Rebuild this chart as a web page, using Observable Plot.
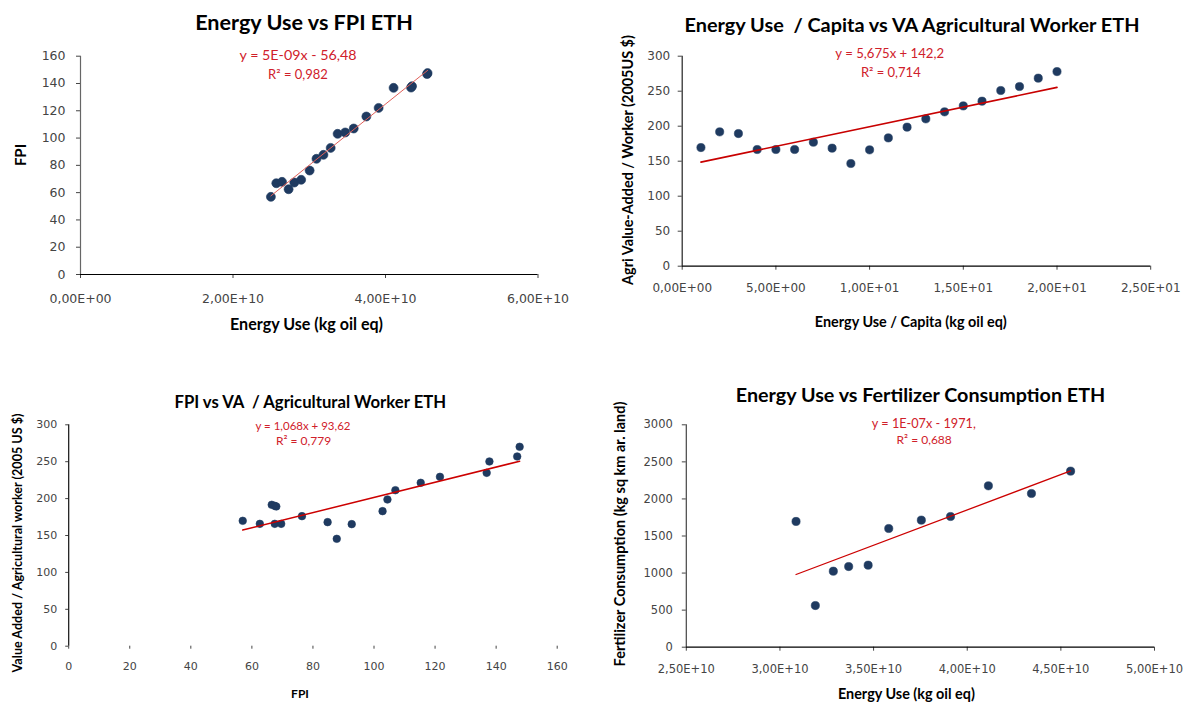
<!DOCTYPE html>
<html>
<head>
<meta charset="utf-8">
<script src="https://cdn.jsdelivr.net/npm/d3@7"></script>
<script src="https://cdn.jsdelivr.net/npm/@observablehq/plot@0.6"></script>
<style>
  html, body { margin: 0; padding: 0; background: #ffffff; }
  #root { position: relative; width: 1187px; height: 702px; overflow: hidden; background: #fff; }
  .panel { position: absolute; }
  .lbl { position: absolute; white-space: pre; line-height: 1; }
</style>
</head>
<body>
<div id="root"></div>
<script>
// ---------------- DATA ----------------
// Panel 1: Energy Use (kg oil eq) vs FPI
const p1Energy = [2.497e10, 2.568e10, 2.643e10, 2.729e10, 2.804e10, 2.894e10, 3.005e10, 3.095e10, 3.186e10, 3.281e10,
                  3.372e10, 3.472e10, 3.583e10, 3.749e10, 3.910e10, 4.106e10, 4.335e10, 4.348e10, 4.545e10, 4.552e10];
const p1FPI    = [56.9, 66.9, 67.9, 62.5, 67.4, 69.4, 76.2, 84.8, 87.7, 92.8,
                  103.1, 104.1, 107.0, 115.8, 122.1, 136.8, 137.0, 138.0, 146.9, 147.6];
const p1XTicks = [0, 2e10, 4e10, 6e10];
const p1YTicks = [0, 20, 40, 60, 80, 100, 120, 140, 160];

// Panel 2: Energy Use / Capita vs Agri Value-Added / Worker
const p2EnergyPC = [1, 2, 3, 4, 5, 6, 7, 8, 9, 10, 11, 12, 13, 14, 15, 16, 17, 18, 19, 20];
const p2VA       = [169.5, 191.9, 189.5, 166.7, 166.7, 166.7, 177.1, 168.6, 146.7, 166.2,
                    183.3, 198.6, 210.5, 220.5, 229.0, 235.7, 251.0, 256.7, 268.6, 278.0];
const p2XTicks = [0, 5, 10, 15, 20, 25];
const p2YTicks = [0, 50, 100, 150, 200, 250, 300];

// Panel 3: FPI vs VA / Agricultural Worker
const p3FPI = [57.0, 62.6, 66.5, 67.5, 68.0, 67.5, 69.6, 76.4, 84.8, 87.8,
               92.7, 102.8, 104.4, 107.0, 115.3, 121.6, 136.9, 137.8, 146.9, 147.7];
const p3VA  = [169.9, 165.8, 191.6, 190.2, 189.3, 165.8, 165.8, 176.2, 168.1, 145.5,
               165.4, 183.0, 198.8, 211.4, 221.4, 229.5, 234.9, 250.3, 257.1, 270.2];
const p3XTicks = [0, 20, 40, 60, 80, 100, 120, 140, 160];
const p3YTicks = [0, 50, 100, 150, 200, 250, 300];

// Panel 4: Energy Use vs Fertilizer Consumption
const p4Energy = [3.086e10, 3.189e10, 3.285e10, 3.367e10, 3.471e10, 3.581e10, 3.755e10, 3.911e10, 4.113e10, 4.343e10, 4.552e10];
const p4Fert   = [1696, 562, 1025, 1088, 1106, 1601, 1714, 1763, 2177, 2073, 2375];
const p4XTicks = [2.5e10, 3e10, 3.5e10, 4e10, 4.5e10, 5e10];
const p4YTicks = [0, 500, 1000, 1500, 2000, 2500, 3000];

// Texts
const titles = ["Energy Use vs FPI ETH", "Energy Use  / Capita vs VA Agricultural Worker ETH",
                "FPI vs VA  / Agricultural Worker ETH", "Energy Use vs Fertilizer Consumption ETH"];
const xLabels = ["Energy Use (kg oil eq)", "Energy Use / Capita (kg oil eq)", "FPI", "Energy Use (kg oil eq)"];
const yLabels = ["FPI", "Agri Value-Added / Worker (2005US $)", "Value Added / Agricultural worker (2005 US $)",
                 "Fertilizer Consumption (kg sq km ar. land)"];
const equations = ["y = 5E-09x - 56,48", "y = 5,675x + 142,2", "y = 1,068x + 93,62", "y = 1E-07x - 1971,"];
const rSquared  = ["R² = 0,982", "R² = 0,714", "R² = 0,779", "R² = 0,688"];

// ---------------- HELPERS ----------------
function sci(d) {
  if (d === 0) return "0,00E+00";
  const e = Math.floor(Math.log10(Math.abs(d)) + 1e-9);
  const m = d / Math.pow(10, e);
  return m.toFixed(2).replace(".", ",") + "E" + (e < 0 ? "-" : "+") + String(Math.abs(e)).padStart(2, "0");
}
const root = document.getElementById("root");
const DOT = "#1f3a60";

function addLabel(text, cx, cy, targetW, opts) {
  const el = document.createElement("div");
  el.className = "lbl";
  el.textContent = text;
  el.style.fontFamily = opts.font || "Lato, 'Open Sans', sans-serif";
  el.style.fontWeight = opts.weight || "normal";
  el.style.color = opts.color || "#000";
  const base = opts.size || 14;
  el.style.fontSize = base + "px";
  root.appendChild(el);
  if (targetW) {
    const w = el.getBoundingClientRect().width;
    if (w > 0) el.style.fontSize = (base * targetW / w).toFixed(2) + "px";
  }
  el.style.left = cx + "px";
  el.style.top = cy + "px";
  el.style.transform = "translate(-50%,-50%)" + (opts.rotate ? " rotate(-90deg)" : "");
  return el;
}

function panel(cfg) {
  const data = cfg.xs.map((x, i) => ({x, y: cfg.ys[i]}));
  const chart = Plot.plot({
    width: cfg.w, height: cfg.h,
    marginLeft: cfg.ml, marginRight: cfg.mr, marginTop: cfg.mt, marginBottom: cfg.mb,
    style: {fontFamily: "'DejaVu Sans', sans-serif", fontSize: cfg.fs + "px", color: "#444", background: "transparent", overflow: "visible"},
    x: {domain: cfg.xDomain, ticks: cfg.xTicks, tickFormat: cfg.xFormat, tickSize: cfg.xts, tickPadding: cfg.xtp, label: null},
    y: {domain: cfg.yDomain, ticks: cfg.yTicks, tickFormat: d => String(d), tickSize: cfg.yts, tickPadding: cfg.ytp, label: null},
    marks: [
      Plot.ruleX([cfg.xDomain[0]], {stroke: cfg.yLineColor, strokeWidth: 1.2}),
      cfg.xLine ? Plot.ruleY([cfg.yDomain[0]], {stroke: cfg.xLineColor, strokeWidth: 1.2}) : null,
      Plot.dot(data, {x: "x", y: "y", r: cfg.r, fill: DOT, stroke: DOT, strokeWidth: 0.6}),
      Plot.linearRegressionY(data, {x: "x", y: "y", stroke: cfg.trend, strokeWidth: cfg.trendW, ci: 0})
    ]
  });
  const div = document.createElement("div");
  div.className = "panel";
  div.style.left = cfg.left + "px";
  div.style.top = cfg.top + "px";
  div.appendChild(chart);
  root.appendChild(div);
}

// ---------------- PANELS ----------------
panel({left: 0, top: 0, w: 600, h: 340, ml: 80, mr: 62.5, mt: 55.7, mb: 66, fs: 12.5,
  xs: p1Energy, ys: p1FPI, xDomain: [0, 6e10], yDomain: [0, 160], xTicks: p1XTicks, yTicks: p1YTicks,
  xFormat: sci, xts: 4, xtp: 16, yts: 4, ytp: 11, r: 4.5, trend: "#e0605a", trendW: 1,
  xLine: true, xLineColor: "#000", yLineColor: "#666"});

panel({left: 600, top: 0, w: 587, h: 340, ml: 81.7, mr: 36.8, mt: 55.7, mb: 74.3, fs: 12,
  xs: p2EnergyPC, ys: p2VA, xDomain: [0, 25], yDomain: [0, 300], xTicks: p2XTicks, yTicks: p2YTicks,
  xFormat: sci, xts: 4, xtp: 13, yts: 4, ytp: 8, r: 4.1, trend: "#c80000", trendW: 1.6,
  xLine: true, xLineColor: "#000", yLineColor: "#222"});

panel({left: 0, top: 380, w: 600, h: 322, ml: 68.2, mr: 43.3, mt: 44.3, mb: 56.3, fs: 11,
  xs: p3FPI, ys: p3VA, xDomain: [0, 160], yDomain: [0, 300], xTicks: p3XTicks, yTicks: p3YTicks,
  xFormat: d => String(d), xts: 3, xtp: 13, yts: 3, ytp: 8.5, r: 3.8, trend: "#cc0000", trendW: 1.5,
  xLine: false, xLineColor: "#000", yLineColor: "#111"});

panel({left: 600, top: 380, w: 587, h: 322, ml: 85.8, mr: 33, mt: 44.3, mb: 55.3, fs: 11.5,
  xs: p4Energy, ys: p4Fert, xDomain: [2.5e10, 5e10], yDomain: [0, 3000], xTicks: p4XTicks, yTicks: p4YTicks,
  xFormat: sci, xts: 4, xtp: 14, yts: 4, ytp: 9.5, r: 4.1, trend: "#cc0000", trendW: 1.3,
  xLine: true, xLineColor: "#000", yLineColor: "#444"});

// ---------------- TEXT ----------------
const B = {weight: "bold", size: 20};
addLabel(titles[0], 304, 23, 217.6, B);
addLabel(titles[1], 912, 25, 455, B);
addLabel(titles[2], 310.3, 401.7, 272, B);
addLabel(titles[3], 920.5, 395, 369.5, B);

const AX = {weight: "bold", size: 13};
addLabel(xLabels[0], 306.5, 324, 153, AX);
addLabel(xLabels[1], 910.8, 322, 192, AX);
addLabel(xLabels[2], 300, 694, null, {weight: "bold", size: 12});
addLabel(xLabels[3], 906.4, 694, 137, AX);

addLabel(yLabels[0], 20, 155, null, {weight: "bold", size: 15, rotate: true});
addLabel(yLabels[1], 628, 160, 250, {weight: "bold", size: 13, rotate: true});
addLabel(yLabels[2], 18, 542.5, 259, {weight: "bold", size: 12, rotate: true});
addLabel(yLabels[3], 619.5, 534, 265, {weight: "bold", size: 13, rotate: true});

const EQ = {color: "#d0202a", size: 13};
addLabel(equations[0], 298, 55, 117, EQ);
addLabel(rSquared[0], 298, 74, null, EQ);
addLabel(equations[1], 889.7, 54, 108.7, EQ);
addLabel(rSquared[1], 890.8, 71.7, null, EQ);
addLabel(equations[2], 303, 426, 95, {color: "#d0202a", size: 12});
addLabel(rSquared[2], 303.6, 441, null, {color: "#d0202a", size: 12});
addLabel(equations[3], 923.8, 422.7, 104, {color: "#d0202a", size: 12});
addLabel(rSquared[3], 924.2, 440, null, {color: "#d0202a", size: 12});
</script>
</body>
</html>
